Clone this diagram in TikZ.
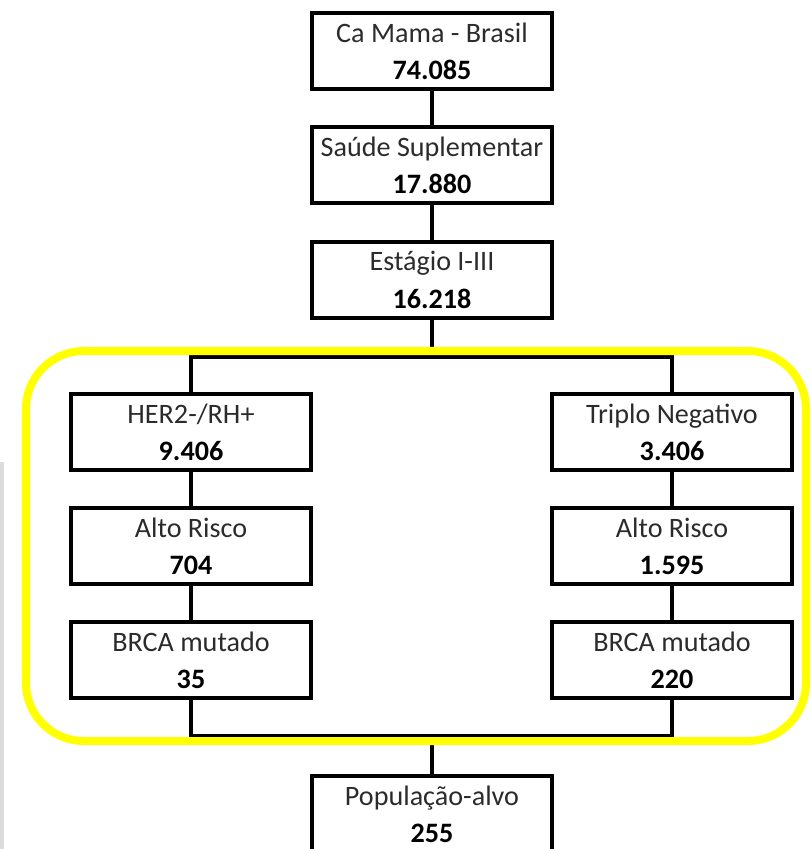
\documentclass[tikz,border=0pt]{standalone}
\usepackage{fontspec}
\setmainfont{Carlito}
\usepackage{tikz}

\definecolor{txtgray}{HTML}{2B2B2B}
\definecolor{hlyellow}{HTML}{FFFF00}
\definecolor{scangray}{HTML}{DCDCDC}

\begin{document}
\begin{tikzpicture}[
        x=0.025cm,y=-0.025cm,
        box/.style={draw,line width=2.4pt,minimum width=6cm,minimum height=1.9cm,
            align=center,inner sep=0pt,font=\fontsize{20}{26.5}\selectfont,text=txtgray},
        conn/.style={line width=2.4pt}]

    \clip (0,0) rectangle (811,849);
    \fill[scangray] (0,462) rectangle (4,849);

    \node[box] (ca)      at (432,51)  {Ca Mama - Brasil\\\textbf{\color{black}74.085}};
    \node[box] (saude)   at (432,165) {Saúde Suplementar\\\textbf{\color{black}17.880}};
    \node[box] (estagio) at (432,280) {Estágio I-III\\\textbf{\color{black}16.218}};

    \node[box] (her)   at (191,432) {HER2-/RH+\\\textbf{\color{black}9.406}};
    \node[box] (alto1) at (191,546) {Alto Risco\\\textbf{\color{black}704}};
    \node[box] (brca1) at (191,660) {BRCA mutado\\\textbf{\color{black}35}};

    \node[box] (trip)  at (672,432) {Triplo Negativo\\\textbf{\color{black}3.406}};
    \node[box] (alto2) at (672,546) {Alto Risco\\\textbf{\color{black}1.595}};
    \node[box] (brca2) at (672,660) {BRCA mutado\\\textbf{\color{black}220}};

    \node[box] (pop) at (432,814) {População-alvo\\\textbf{\color{black}255}};

    \coordinate (split) at (432,357);
    \coordinate (join)  at (432,736);

    \draw[conn] (ca) -- (saude);
    \draw[conn] (saude) -- (estagio);
    \draw[conn] (estagio) -- (split);
    \draw[conn] (her.north) |- (split) -| (trip.north);
    \draw[conn] (her) -- (alto1);
    \draw[conn] (alto1) -- (brca1);
    \draw[conn] (trip) -- (alto2);
    \draw[conn] (alto2) -- (brca2);
    \draw[conn] (brca1.south) |- (join) -| (brca2.south);
    \draw[conn] (join) -- (pop);

    % highlighted group
    \draw[hlyellow,line width=5.7pt,rounded corners=1.45cm] (26,351) rectangle (806,741);
\end{tikzpicture}
\end{document}
